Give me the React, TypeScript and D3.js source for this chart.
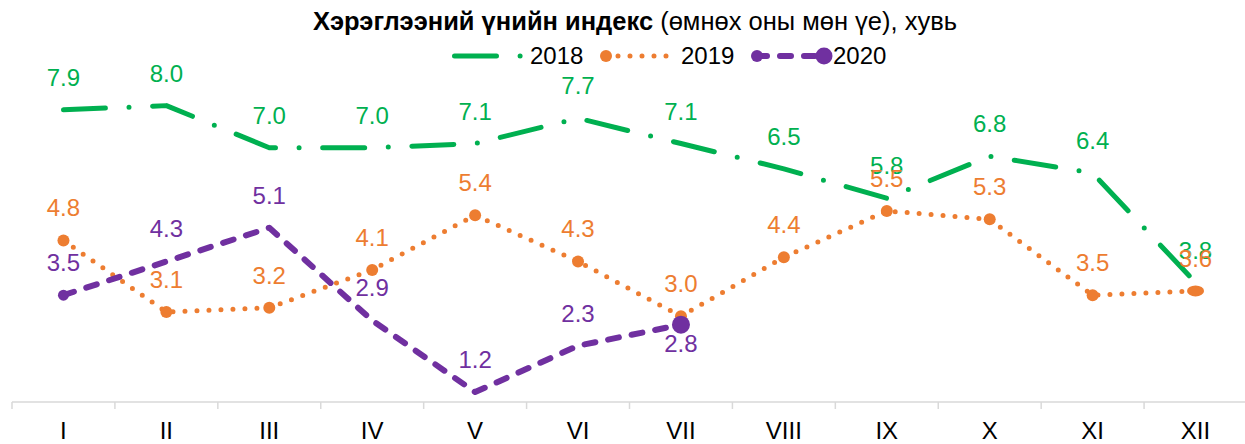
import React from "react";
import * as d3 from "d3";

const categories = ["I", "II", "III", "IV", "V", "VI", "VII", "VIII", "IX", "X", "XI", "XII"];
const values2018 = [7.9, 8.0, 7.0, 7.0, 7.1, 7.7, 7.1, 6.5, 5.8, 6.8, 6.4, 3.8];
const values2019 = [4.8, 3.1, 3.2, 4.1, 5.4, 4.3, 3.0, 4.4, 5.5, 5.3, 3.5, 3.6];
const values2020 = [3.5, 4.3, 5.1, 2.9, 1.2, 2.3, 2.8];
const seriesNames = ["2018", "2019", "2020"];
const titleBold = "Хэрэглээний үнийн индекс";
const titleRest = " (өмнөх оны мөн үе), хувь";

const W = 1245;
const H = 444;
const GREEN = "#00B050";
const ORANGE = "#ED7D31";
const PURPLE = "#7030A0";
const FONT = "'Liberation Sans', Arial, Helvetica, sans-serif";

export default function App() {
  const x = d3.scaleBand<string>().domain(categories).range([12, 1247]);
  const cx = (c: string) => (x(c) as number) + x.bandwidth() / 2;
  const y = d3.scaleLinear().domain([1, 9]).range([400.5, 63.5]);
  const axisY = y(1) + 1.5;

  const pts = (vals: number[]) => vals.map((v, i) => [cx(categories[i]), y(v)] as [number, number]);
  const line = d3.line<[number, number]>();

  const p18 = pts(values2018);
  const p19 = pts(values2019);
  const p20 = pts(values2020);

  const dash18 = "42 23.6 0 23.6";
  const dash19 = "0 12";
  const dash20 = "11 13";

  const labelStyle = { fontFamily: FONT, fontSize: 24 } as const;

  return (
    <div style={{ position: "absolute", left: 0, top: 0 }}>
      <svg width={W} height={H} style={{ display: "block", background: "#fff" }}>
        {/* title */}
        <text x={635} y={30} textAnchor="middle" style={{ fontFamily: FONT, fontSize: 25.5 }} fill="#000">
          <tspan fontWeight="bold">{titleBold}</tspan>
          <tspan>{titleRest}</tspan>
        </text>

        {/* legend */}
        <g>
          <path d={line([[454.5, 56], [522, 56]]) as string} stroke={GREEN} strokeWidth={5} strokeLinecap="round" strokeDasharray={dash18} fill="none" />
          <text x={530} y={64} style={labelStyle} fill="#000">{seriesNames[0]}</text>
          <path d={line([[606, 56], [667, 56]]) as string} stroke={ORANGE} strokeWidth={5} strokeLinecap="round" strokeDasharray={dash19} fill="none" />
          <circle cx={606} cy={56} r={6} fill={ORANGE} />
          <text x={681} y={64} style={labelStyle} fill="#000">{seriesNames[1]}</text>
          <path d={line([[756, 56], [824, 56]]) as string} stroke={PURPLE} strokeWidth={6} strokeLinecap="round" strokeDasharray={dash20} fill="none" />
          <circle cx={757} cy={56} r={6} fill={PURPLE} />
          <circle cx={824} cy={56} r={8.5} fill={PURPLE} />
          <text x={833} y={64} style={labelStyle} fill="#000">{seriesNames[2]}</text>
        </g>

        {/* axis */}
        <line x1={12} x2={W} y1={axisY} y2={axisY} stroke="#d9d9d9" strokeWidth={1.5} />
        {categories.concat(["_end"]).map((c, i) => {
          const xx = i < categories.length ? (x(c) as number) : x.range()[1];
          return <line key={"t" + i} x1={xx} x2={xx} y1={axisY} y2={axisY + 7} stroke="#d9d9d9" strokeWidth={1.5} />;
        })}
        {categories.map((c) => (
          <text key={"c" + c} x={cx(c)} y={439} textAnchor="middle" style={labelStyle} fill="#000">{c}</text>
        ))}

        {/* 2018 */}
        <path d={line(p18) as string} stroke={GREEN} strokeWidth={5} strokeLinecap="round" strokeLinejoin="round" strokeDasharray={dash18} fill="none" />
        {/* 2019 */}
        <path d={line(p19) as string} stroke={ORANGE} strokeWidth={5} strokeLinecap="round" strokeLinejoin="round" strokeDasharray={dash19} fill="none" />
        {p19.map((p, i) => (
          i === p19.length - 1
            ? <ellipse key={"m19" + i} cx={p[0]} cy={p[1]} rx={8.5} ry={5.5} fill={ORANGE} />
            : <circle key={"m19" + i} cx={p[0]} cy={p[1]} r={6} fill={ORANGE} />
        ))}
        {/* 2020 */}
        <path d={line(p20) as string} stroke={PURPLE} strokeWidth={6} strokeLinecap="round" strokeLinejoin="round" strokeDasharray={dash20} fill="none" />
        <circle cx={p20[0][0]} cy={p20[0][1]} r={5.5} fill={PURPLE} />
        <circle cx={p20[p20.length - 1][0]} cy={p20[p20.length - 1][1]} r={9} fill={PURPLE} />

        {/* labels */}
        {values2018.map((v, i) => (
          <text key={"l18" + i} x={cx(categories[i])} y={y(v) - 24} textAnchor="middle" style={labelStyle} fill={GREEN}>{v.toFixed(1)}</text>
        ))}
        {values2019.map((v, i) => (
          <text key={"l19" + i} x={cx(categories[i])} y={y(v) - 24} textAnchor="middle" style={labelStyle} fill={ORANGE}>{v.toFixed(1)}</text>
        ))}
        {values2020.map((v, i) => (
          <text key={"l20" + i} x={cx(categories[i])} y={i === values2020.length - 1 ? y(v) + 27 : y(v) - 24} textAnchor="middle" style={labelStyle} fill={PURPLE}>{v.toFixed(1)}</text>
        ))}
      </svg>
    </div>
  );
}
